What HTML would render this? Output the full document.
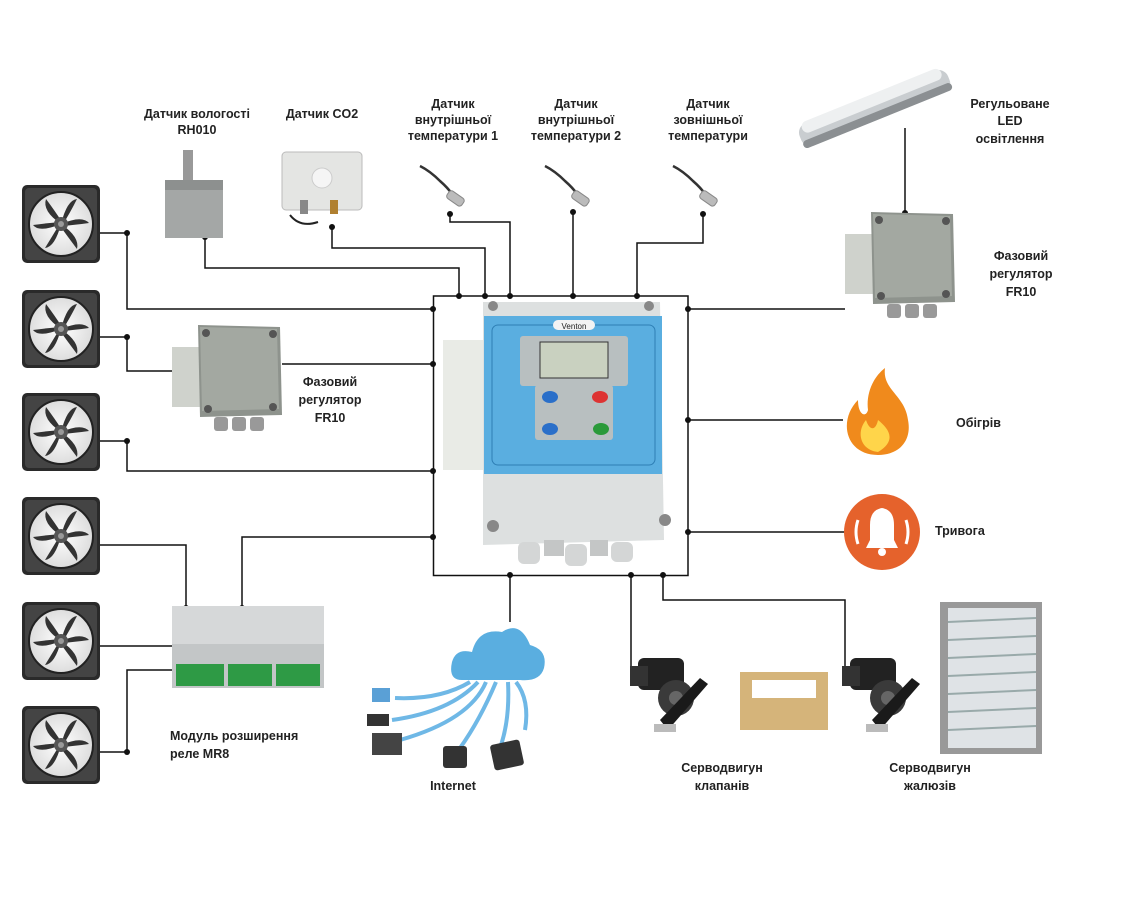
<!DOCTYPE html>
<html><head><meta charset="utf-8">
<style>
html,body{margin:0;padding:0;background:#fff;}
svg{display:block;}
text{font-family:"Liberation Sans",sans-serif;font-size:12.5px;fill:#222;font-weight:bold;}
</style></head><body>
<svg width="1125" height="914" viewBox="0 0 1125 914" xmlns="http://www.w3.org/2000/svg">
<defs>
<radialGradient id="fg" cx="50%" cy="50%" r="50%"><stop offset="0" stop-color="#fff"/><stop offset="1" stop-color="#ddd"/></radialGradient>
<g id="fan">
<rect x="0" y="0" width="78" height="78" rx="5" fill="#2a2a2a"/>
<rect x="3" y="3" width="72" height="72" rx="4" fill="#444"/>
<circle cx="39" cy="39" r="32" fill="url(#fg)"/>
<circle cx="39" cy="39" r="32" fill="none" stroke="#222" stroke-width="2"/>
<g fill="#333">
<path d="M39 39 Q45 15 55 14 Q48 28 41 39Z"/>
<path d="M39 39 Q60 30 67 38 Q52 40 40 41Z"/>
<path d="M39 39 Q58 52 55 64 Q46 52 38 41Z"/>
<path d="M39 39 Q33 62 23 63 Q31 50 37 40Z"/>
<path d="M39 39 Q17 48 11 40 Q26 38 38 37Z"/>
<path d="M39 39 Q20 26 24 14 Q33 26 40 37Z"/>
</g>
<circle cx="39" cy="39" r="7" fill="#555"/>
<circle cx="39" cy="39" r="3" fill="#999"/>
</g>
<g id="fr10">
<rect x="0" y="22" width="32" height="60" fill="#cfd2cc"/>
<path d="M26 0 L108 2 L110 90 L28 92Z" fill="#8e938d"/>
<path d="M28 2 L105 4 L107 84 L30 86Z" fill="#a3a8a1"/>
<circle cx="34" cy="8" r="4" fill="#555"/><circle cx="101" cy="9" r="4" fill="#555"/>
<circle cx="36" cy="84" r="4" fill="#555"/><circle cx="101" cy="82" r="4" fill="#555"/>
<rect x="42" y="92" width="14" height="14" rx="3" fill="#999"/>
<rect x="60" y="92" width="14" height="14" rx="3" fill="#999"/>
<rect x="78" y="92" width="14" height="14" rx="3" fill="#999"/>
</g>
<g id="probe">
<path d="M0 0 Q10 5 20 15 Q28 22 32 28" fill="none" stroke="#333" stroke-width="2.5"/>
<rect x="28" y="24" width="18" height="9" rx="3" transform="rotate(35 30 28)" fill="#bbb" stroke="#888"/>
</g>
<g id="servo">
<rect x="8" y="0" width="46" height="32" rx="6" fill="#222"/>
<rect x="0" y="8" width="18" height="20" fill="#333"/>
<circle cx="46" cy="40" r="18" fill="#3a3a3a"/>
<circle cx="46" cy="40" r="7" fill="#666"/>
<path d="M30 62 L70 20 L78 26 L38 72Z" fill="#1a1a1a"/>
<rect x="24" y="66" width="22" height="8" fill="#bbb"/>
</g>
</defs>

<!-- wires -->
<g stroke="#111" stroke-width="1.5" fill="none">
<rect x="433.5" y="296" width="254.5" height="279.5"/>
<polyline points="100,233 127,233 127,309 433,309"/>
<polyline points="100,337 127,337 127,371 172,371"/>
<polyline points="282,364 433,364"/>
<polyline points="100,441 127,441 127,471 433,471"/>
<polyline points="100,545 186,545 186,608"/>
<polyline points="100,646 172,646"/>
<polyline points="100,752 127,752 127,670 172,670"/>
<polyline points="242,608 242,537 433,537"/>
<polyline points="205,237 205,268 459,268 459,296"/>
<polyline points="332,227 332,248 485,248 485,296"/>
<polyline points="450,214 450,222 510,222 510,296"/>
<polyline points="573,212 573,296"/>
<polyline points="703,214 703,243 637,243 637,296"/>
<polyline points="688,309 845,309"/>
<polyline points="905,213 905,128"/>
<polyline points="688,420 843,420"/>
<polyline points="688,532 845,532"/>
<polyline points="510,576 510,622"/>
<polyline points="631,576 631,670"/>
<polyline points="663,576 663,600 845,600 845,670"/>
</g>
<g fill="#111">
<circle cx="459" cy="296" r="3"/><circle cx="485" cy="296" r="3"/><circle cx="510" cy="296" r="3"/><circle cx="573" cy="296" r="3"/><circle cx="637" cy="296" r="3"/>
<circle cx="433" cy="309" r="3"/><circle cx="433" cy="364" r="3"/><circle cx="433" cy="471" r="3"/><circle cx="433" cy="537" r="3"/>
<circle cx="688" cy="309" r="3"/><circle cx="688" cy="420" r="3"/><circle cx="688" cy="532" r="3"/>
<circle cx="510" cy="575" r="3"/><circle cx="631" cy="575" r="3"/><circle cx="663" cy="575" r="3"/>
<circle cx="127" cy="233" r="3"/><circle cx="127" cy="337" r="3"/><circle cx="127" cy="441" r="3"/><circle cx="127" cy="752" r="3"/>
<circle cx="205" cy="237" r="3"/><circle cx="332" cy="227" r="3"/><circle cx="450" cy="214" r="3"/><circle cx="573" cy="212" r="3"/><circle cx="703" cy="214" r="3"/>
<circle cx="905" cy="213" r="3"/><circle cx="186" cy="608" r="3"/><circle cx="242" cy="608" r="3"/>
</g>

<!-- fans -->
<use href="#fan" x="22" y="185"/>
<use href="#fan" x="22" y="290"/>
<use href="#fan" x="22" y="393"/>
<use href="#fan" x="22" y="497"/>
<use href="#fan" x="22" y="602"/>
<use href="#fan" x="22" y="706"/>

<!-- main controller -->
<rect x="443" y="340" width="45" height="130" fill="#e9ebe6"/>
<path d="M483 302 L660 302 L664 540 L483 545Z" fill="#dde0e0"/>
<rect x="484" y="316" width="178" height="158" fill="#5aaee0"/>
<rect x="492" y="325" width="163" height="140" rx="6" fill="none" stroke="#2e7fb5"/>
<rect x="553" y="320" width="42" height="10" rx="5" fill="#f3f3f3"/>
<text x="574" y="329" text-anchor="middle" style="font-size:8px;font-weight:normal">Venton</text>
<rect x="520" y="336" width="108" height="50" rx="3" fill="#b8bfc0"/>
<rect x="540" y="342" width="68" height="36" fill="#c9d1c0" stroke="#333"/>
<rect x="535" y="385" width="78" height="55" rx="3" fill="#b8bfc0"/>
<ellipse cx="550" cy="397" rx="8" ry="6" fill="#2a6fc9"/>
<ellipse cx="600" cy="397" rx="8" ry="6" fill="#d33"/>
<ellipse cx="550" cy="429" rx="8" ry="6" fill="#2a6fc9"/>
<ellipse cx="601" cy="429" rx="8" ry="6" fill="#2a9a3a"/>
<circle cx="493" cy="306" r="5" fill="#888"/><circle cx="649" cy="306" r="5" fill="#888"/>
<circle cx="493" cy="526" r="6" fill="#888"/><circle cx="665" cy="520" r="6" fill="#888"/>
<rect x="518" y="542" width="22" height="22" rx="6" fill="#d4d6d6"/>
<rect x="544" y="540" width="20" height="16" fill="#c4c6c6"/>
<rect x="565" y="544" width="22" height="22" rx="6" fill="#d4d6d6"/>
<rect x="590" y="540" width="18" height="16" fill="#c4c6c6"/>
<rect x="611" y="542" width="22" height="20" rx="6" fill="#d4d6d6"/>

<!-- FR10 left & right -->
<use href="#fr10" x="172" y="325"/>
<use href="#fr10" x="845" y="212"/>

<!-- RH sensor -->
<rect x="183" y="150" width="10" height="36" fill="#999"/>
<rect x="165" y="180" width="58" height="58" fill="#a4a7a6"/>
<rect x="165" y="180" width="58" height="10" fill="#8d908f"/>
<!-- CO2 -->
<rect x="282" y="152" width="80" height="58" rx="4" fill="#e4e5e3" stroke="#bbb"/>
<circle cx="322" cy="178" r="10" fill="#f5f5f5" stroke="#ccc"/>
<rect x="300" y="200" width="8" height="14" fill="#888"/><rect x="330" y="200" width="8" height="14" fill="#b08030"/>
<path d="M290 215 Q300 228 318 222" stroke="#222" stroke-width="2" fill="none"/>
<!-- probes -->
<use href="#probe" x="420" y="166"/>
<use href="#probe" x="545" y="166"/>
<use href="#probe" x="673" y="166"/>
<!-- lamp -->
<g transform="rotate(-22 870 110)">
<rect x="795" y="98" width="160" height="24" rx="10" fill="#c9cdd0"/>
<rect x="800" y="96" width="150" height="12" rx="6" fill="#eef0f1"/>
<rect x="795" y="114" width="160" height="8" rx="4" fill="#8b8f92"/>
</g>
<!-- fire -->
<path d="M878 455 C845 455 838 420 858 400 C858 415 866 418 868 410 C866 395 872 378 885 368 C882 390 905 395 908 420 C912 440 900 455 878 455Z" fill="#f08a1c"/>
<path d="M878 452 C860 450 856 432 866 420 C870 432 876 430 878 420 C888 428 898 440 878 452Z" fill="#ffd54a"/>
<!-- alarm -->
<circle cx="882" cy="532" r="38" fill="#e5622c"/>
<path d="M866 548 L898 548 L894 540 L894 525 Q894 510 882 508 Q870 510 870 525 L870 540Z" fill="#fff"/>
<circle cx="882" cy="552" r="4" fill="#fff"/>
<path d="M858 520 Q854 532 858 544 M906 520 Q910 532 906 544" stroke="#fff" stroke-width="3" fill="none"/>
<!-- relay module -->
<rect x="172" y="606" width="152" height="40" fill="#d6d8d9"/>
<rect x="172" y="644" width="152" height="44" fill="#c3c6c7"/>
<rect x="176" y="664" width="48" height="22" fill="#2e9a45"/>
<rect x="228" y="664" width="44" height="22" fill="#2e9a45"/>
<rect x="276" y="664" width="44" height="22" fill="#2e9a45"/>
<!-- cloud/internet -->
<path d="M462 680 Q448 680 452 662 Q456 648 472 652 Q478 628 502 632 Q520 620 530 645 Q548 650 544 668 Q540 682 520 680Z" fill="#5aaee0"/>
<g stroke="#6fb8e6" stroke-width="4" fill="none">
<path d="M470 682 Q440 700 395 698"/><path d="M478 682 Q450 712 392 720"/><path d="M486 682 Q470 720 400 740"/>
<path d="M496 682 Q480 720 460 748"/><path d="M508 682 Q510 720 500 748"/><path d="M516 682 Q530 700 525 730"/>
</g>
<rect x="372" y="688" width="18" height="14" fill="#5aa0d6"/>
<rect x="367" y="714" width="22" height="12" fill="#333"/>
<rect x="372" y="733" width="30" height="22" fill="#444"/>
<rect x="443" y="746" width="24" height="22" rx="3" fill="#333"/>
<rect x="492" y="742" width="30" height="26" rx="3" fill="#333" transform="rotate(-12 507 755)"/>
<!-- servos -->
<use href="#servo" x="630" y="658"/>
<rect x="740" y="672" width="88" height="58" fill="#d5b47a"/>
<rect x="752" y="680" width="64" height="18" fill="#fff"/>
<use href="#servo" x="842" y="658"/>
<rect x="940" y="602" width="102" height="152" fill="#999"/>
<rect x="948" y="608" width="88" height="140" fill="#dfe3e6"/>
<g stroke="#9aa" stroke-width="2"><line x1="948" y1="622" x2="1036" y2="618"/><line x1="948" y1="640" x2="1036" y2="636"/><line x1="948" y1="658" x2="1036" y2="654"/><line x1="948" y1="676" x2="1036" y2="672"/><line x1="948" y1="694" x2="1036" y2="690"/><line x1="948" y1="712" x2="1036" y2="708"/><line x1="948" y1="730" x2="1036" y2="726"/></g>

<!-- labels -->
<g text-anchor="middle">
<text x="197" y="118">Датчик вологості</text><text x="197" y="134">RH010</text>
<text x="322" y="118">Датчик CO2</text>
<text x="453" y="108">Датчик</text><text x="453" y="124">внутрішньої</text><text x="453" y="140">температури 1</text>
<text x="576" y="108">Датчик</text><text x="576" y="124">внутрішньої</text><text x="576" y="140">температури 2</text>
<text x="708" y="108">Датчик</text><text x="708" y="124">зовнішньої</text><text x="708" y="140">температури</text>
<text x="1010" y="108">Регульоване</text><text x="1010" y="125">LED</text><text x="1010" y="143">освітлення</text>
<text x="1021" y="260">Фазовий</text><text x="1021" y="278">регулятор</text><text x="1021" y="296">FR10</text>
<text x="330" y="386">Фазовий</text><text x="330" y="404">регулятор</text><text x="330" y="422">FR10</text>
<text x="453" y="790">Internet</text>
<text x="722" y="772">Серводвигун</text><text x="722" y="790">клапанів</text>
<text x="930" y="772">Серводвигун</text><text x="930" y="790">жалюзів</text>
</g>
<text x="956" y="427">Обігрів</text>
<text x="935" y="535">Тривога</text>
<text x="170" y="740">Модуль розширення</text>
<text x="170" y="758">реле MR8</text>
</svg>
</body></html>
